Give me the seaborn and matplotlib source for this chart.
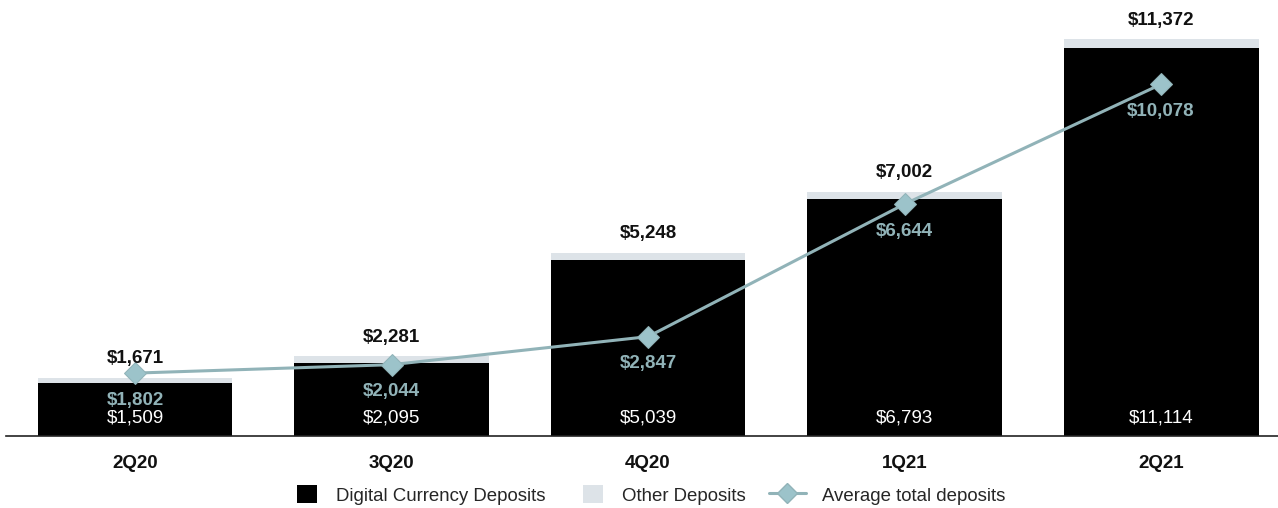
import matplotlib
matplotlib.use("Agg")
import matplotlib.pyplot as plt
import seaborn as sns
import numpy as np
import pandas as pd
from matplotlib.patches import Patch
from matplotlib.lines import Line2D
from matplotlib.legend_handler import HandlerLine2D

quarters = ["2Q20", "3Q20", "4Q20", "1Q21", "2Q21"]
total_deposits = [1671, 2281, 5248, 7002, 11372]
digital_deposits = [1509, 2095, 5039, 6793, 11114]
avg_total_deposits = [1802, 2044, 2847, 6644, 10078]

BLACK = "#000000"
OTHER = "#dde3e8"
LINEC = "#91b3b8"

sns.set_theme(style="white")
plt.rcParams['font.family'] = ['Liberation Sans', 'DejaVu Sans']

df = pd.DataFrame({"quarter": quarters, "total": total_deposits,
                   "digital": digital_deposits, "avg": avg_total_deposits,
                   "pos": np.arange(len(quarters))})

fig = plt.figure(figsize=(12.78, 5.08), dpi=100)
ax = fig.add_axes([6/1278, 1 - 436/508, 1272/1278, 426/508])

sns.barplot(data=df, x="quarter", y="total", color=OTHER, width=0.76,
            saturation=1, ax=ax, edgecolor="none")
sns.barplot(data=df, x="quarter", y="digital", color=BLACK, width=0.76,
            saturation=1, ax=ax, edgecolor="none")
sns.lineplot(data=df, x="pos", y="avg", color=LINEC, linewidth=2.2,
             marker="D", markersize=11, markeredgecolor=LINEC,
             markerfacecolor="#9cc3ca", ax=ax)

for i, (t, d, a) in enumerate(zip(total_deposits, digital_deposits, avg_total_deposits)):
    ax.annotate(f"${t:,}", (i, t), xytext=(0, 19), textcoords="offset pixels",
                ha="center", va="center", fontsize=13.5, fontweight="bold", color="#111111")
    ax.annotate(f"${a:,}", (i, a), xytext=(0, -27), textcoords="offset pixels",
                ha="center", va="center", fontsize=13.5, fontweight="bold", color=LINEC)
    ax.text(i, 520, f"${d:,}", ha="center", va="center", fontsize=13.5, color="white")

ax.set_xlim(-0.503, 4.456)
ax.set_ylim(0, 12206)
ax.set_xlabel("")
ax.set_ylabel("")
ax.set_yticks([])
ax.set_xticks(range(len(quarters)))
ax.set_xticklabels(quarters, fontsize=13.5, fontweight="bold", color="#111111")
ax.tick_params(axis="x", length=0, pad=14)
for s in ["top", "right", "left"]:
    ax.spines[s].set_visible(False)
ax.spines["bottom"].set_color("#222222")
ax.spines["bottom"].set_linewidth(1.2)
ax.set_facecolor("white")


class LongLineHandler(HandlerLine2D):
    def create_artists(self, legend, orig_handle, xdescent, ydescent, width,
                       height, fontsize, trans):
        extra = 10
        return super().create_artists(legend, orig_handle, xdescent + extra, ydescent,
                                      width + extra + 2, height, fontsize, trans)


line_handle = Line2D([0], [0], color=LINEC, linewidth=2.2, marker="D", markersize=10,
                     markerfacecolor="#9cc3ca", markeredgecolor=LINEC,
                     label="Average total deposits")
handles = [Patch(facecolor=BLACK, edgecolor="none", label="Digital Currency Deposits"),
           Patch(facecolor=OTHER, edgecolor="none", label="Other Deposits"),
           line_handle]
fig.legend(handles=handles, loc="center", bbox_to_anchor=(651/1278, 1 - 495/508),
           ncol=3, frameon=False, fontsize=13.4, handlelength=1.1, handleheight=1.1,
           columnspacing=2.0, handletextpad=1.0,
           handler_map={line_handle: LongLineHandler(numpoints=1)})

fig.savefig("out.png", dpi=100, facecolor="white")
